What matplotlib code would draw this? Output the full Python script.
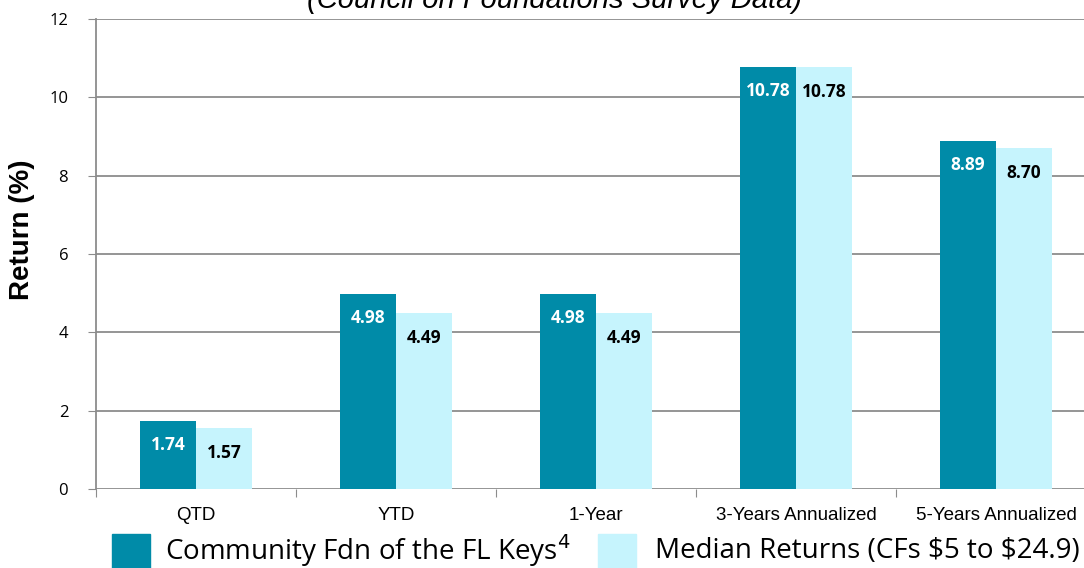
import numpy as np
import matplotlib
matplotlib.use('Agg')
import matplotlib.pyplot as plt
from matplotlib.patches import Rectangle

# datos
categorias = ['QTD', 'YTD', '1-Year', '3-Years Annualized', '5-Years Annualized']
fl_keys = [1.74, 4.98, 4.98, 10.78, 8.89]
mediana = [1.57, 4.49, 4.49, 10.78, 8.70]
serie_nombres = ['Community Fdn of the FL Keys$^4$', 'Median Returns (CFs $5 to $24.9)']

col_oscuro = '#008BA8'
col_claro = '#C6F4FD'
gris = '#8C8C8C'

fig = plt.figure(figsize=(10.84, 5.68), dpi=100)
ax = fig.add_axes([96 / 1084, 79 / 568, 1000 / 1084, 470 / 568])

x = np.arange(len(categorias)) + 0.5
w = 0.28
ax.bar(x - w / 2, fl_keys, w, color=col_oscuro, zorder=3)
ax.bar(x + w / 2, mediana, w, color=col_claro, zorder=3)

for xi, v in zip(x, fl_keys):
    ax.annotate(f'{v:.2f}', (xi - w / 2, v), xytext=(0, -24), textcoords='offset pixels',
                ha='center', va='center', color='white', fontweight='bold',
                fontsize=12.5, family='Open Sans', zorder=4)
for xi, v in zip(x, mediana):
    ax.annotate(f'{v:.2f}', (xi + w / 2, v), xytext=(0, -25), textcoords='offset pixels',
                ha='center', va='center', color='black', fontweight='bold',
                fontsize=12.5, family='Open Sans', zorder=4)

ax.set_xlim(0, 5)
ax.set_ylim(0, 12)
ax.set_yticks(range(0, 13, 2))
ax.yaxis.grid(True, color=gris, linewidth=1.3, zorder=0)
ax.set_xticks(range(0, 6))
ax.set_xticklabels([])
ax.set_xticks(x, minor=True)
ax.set_xticklabels(categorias, minor=True, family='Liberation Sans', fontsize=13.5)
ax.tick_params(axis='x', which='minor', length=0, pad=13)
ax.tick_params(axis='x', which='major', length=6, color=gris, direction='out')
ax.tick_params(axis='y', length=6, color=gris, labelsize=12, pad=14)
for t in ax.get_yticklabels():
    t.set_family('Open Sans')
for s in ['top', 'right', 'bottom']:
    ax.spines[s].set_visible(False)
ax.spines['left'].set_color(gris)
ax.spines['left'].set_linewidth(1.3)

fig.text(22 / 1084, 1 - 230 / 568, 'Return (%)', rotation=90, ha='center', va='center',
         fontsize=20, fontweight='bold', family='Liberation Sans')

fig.text(555 / 1084, 1.0, '(Council on Foundations Survey Data)', ha='center', va='center',
         fontsize=21, style='italic', family='Liberation Sans')

# leyenda
fig.patches.append(Rectangle((112 / 1084, 0), 38 / 1084, 34 / 568, transform=fig.transFigure,
                             color=col_oscuro))
fig.patches.append(Rectangle((598 / 1084, 0), 38 / 1084, 34 / 568, transform=fig.transFigure,
                             color=col_claro))
fig.text(165 / 1084, 17 / 568, serie_nombres[0], ha='left', va='center', fontsize=20,
         family='Open Sans')
fig.text(655 / 1084, 17 / 568, serie_nombres[1].replace('$', r'\$'), ha='left', va='center',
         fontsize=20, family='Open Sans')

fig.savefig('out.png', dpi=100)
